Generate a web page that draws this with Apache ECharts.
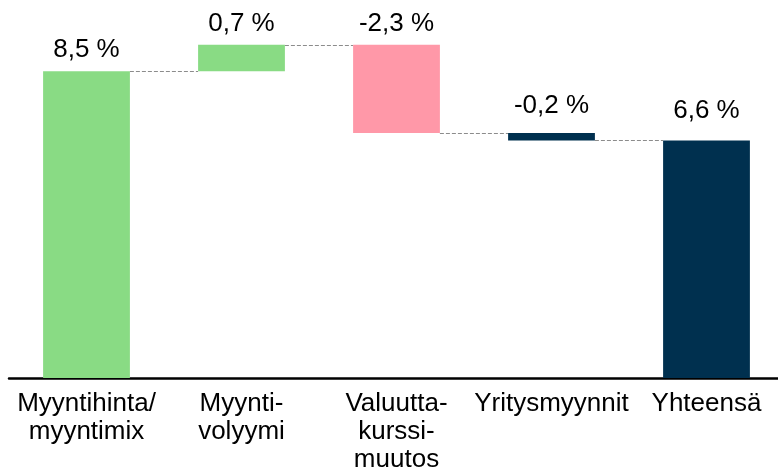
<!DOCTYPE html>
<html>
<head>
<meta charset="utf-8">
<script src="https://cdn.jsdelivr.net/npm/echarts@6/dist/echarts.min.js"></script>
<style>
  html, body { margin: 0; padding: 0; background: #fff; }
  #chart { width: 778px; height: 469px; }
</style>
</head>
<body>
<div id="chart"></div>
<script>
// categories and read-off values (percent points)
var categories = ["Myyntihinta/\nmyyntimix", "Myynti-\nvolyymi", "Valuutta-\nkurssi-\nmuutos", "Yritysmyynnit", "Yhteensä"];
var steps = [8.5, 0.73, -2.44, -0.21];
var valueLabels = ["8,5 %", "0,7 %", "-2,3 %", "-0,2 %", "6,6 %"];
var barColors = ["#89db84", "#89db84", "#ff98a8", "#00304f", "#00304f"];

// build waterfall: invisible base + visible part
var base = [];
var visible = [];
var levels = []; // running total after each step
var run = 0;
steps.forEach(function (v) {
  var start = run;
  run = run + v;
  base.push(Math.min(start, run));
  visible.push(Math.abs(v));
  levels.push(run);
});
base.push(0);
visible.push(run);

var font = "'Liberation Sans', Arial, sans-serif";
var barRatio = 0.56;
var labelGap = [8, 8, 8, 14, 17];

var chart = echarts.init(document.getElementById("chart"));
chart.setOption({
  animation: false,
  grid: { left: 9, right: -6, top: 17, bottom: 91, outerBoundsMode: "none", containLabel: false },
  xAxis: {
    type: "category",
    data: categories,
    axisTick: { show: false },
    axisLine: { lineStyle: { color: "#000", width: 2.5 } },
    axisLabel: {
      color: "#000",
      fontSize: 26,
      fontFamily: font,
      lineHeight: 28,
      margin: 12,
      interval: 0,
      align: "center"
    }
  },
  yAxis: { type: "value", min: 0, max: 10, show: false },
  series: [
    {
      type: "bar",
      stack: "w",
      data: base,
      barWidth: barRatio * 100 + "%",
      itemStyle: { color: "transparent" },
      silent: true
    },
    {
      type: "bar",
      stack: "w",
      data: visible.map(function (v, i) {
        return {
          value: v,
          itemStyle: { color: barColors[i] },
          label: { distance: labelGap[i] }
        };
      }),
      label: {
        show: true,
        position: "top",
        color: "#000",
        fontSize: 26,
        fontFamily: font,
        formatter: function (p) {
          return valueLabels[p.dataIndex];
        }
      }
    },
    {
      // dashed connectors between bars
      type: "custom",
      data: levels.map(function (l, i) { return [i, l]; }),
      z: 1,
      renderItem: function (params, api) {
        var p = api.coord([api.value(0), api.value(1)]);
        var band = api.size([1, 0])[0];
        var half = band * barRatio / 2;
        return {
          type: "line",
          shape: { x1: p[0] + half, y1: Math.round(p[1]) + 0.5, x2: p[0] + band - half, y2: Math.round(p[1]) + 0.5 },
          style: { stroke: "#8c8c8c", lineWidth: 1, lineDash: [4, 2] }
        };
      }
    }
  ]
});
</script>
</body>
</html>
